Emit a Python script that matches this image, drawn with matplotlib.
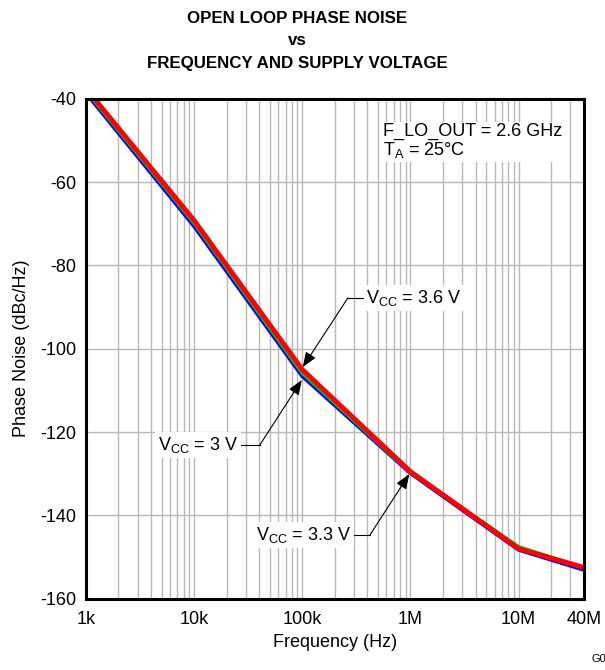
import matplotlib
matplotlib.use("Agg")
import matplotlib.pyplot as plt
from matplotlib.ticker import FixedLocator, LogLocator, NullFormatter

plt.rcParams['font.family'] = ['Liberation Sans', 'DejaVu Sans']
plt.rcParams['axes.unicode_minus'] = False

# data
freq_hz = [1e3, 1e4, 1e5, 1e6, 1e7, 4e7]
pn_3v0 = [-38.5, -70.5, -106.5, -129.8, -148.2, -153.0]
pn_3v3 = [-38.0, -69.8, -105.8, -129.7, -147.6, -152.6]
pn_3v6 = [-37.5, -69.2, -105.0, -129.5, -148.0, -152.5]

x_ticks = [1e3, 1e4, 1e5, 1e6, 1e7, 4e7]
x_tick_labels = ['1k', '10k', '100k', '1M', '10M', '40M']
y_ticks = [-160, -140, -120, -100, -80, -60, -40]

fs = 13

fig = plt.figure(figsize=(6.05, 6.70), dpi=100)
ax = fig.add_axes([0.142, 0.1064, 0.823, 0.7463])

ax.plot(freq_hz, pn_3v0, color='#0000ff', lw=3.2, solid_joinstyle='miter', zorder=3)
ax.plot(freq_hz, pn_3v3, color='#00cc00', lw=2.8, solid_joinstyle='miter', zorder=4)
ax.plot(freq_hz, pn_3v6, color='#ff0000', lw=3.5, solid_joinstyle='miter', zorder=5)

ax.set_xscale('log')
ax.set_xlim(1e3, 4e7)
ax.set_ylim(-160, -40)
ax.xaxis.set_major_locator(FixedLocator(x_ticks))
ax.set_xticklabels(x_tick_labels)
ax.xaxis.set_minor_locator(LogLocator(base=10, subs=range(2, 10), numticks=20))
ax.xaxis.set_minor_formatter(NullFormatter())
ax.set_yticks(y_ticks)
ax.tick_params(axis='both', which='both', length=0, labelsize=fs)
ax.tick_params(axis='x', pad=9)
ax.tick_params(axis='y', pad=7)

ax.grid(True, which='major', axis='y', color='#b8b8b8', lw=1.0)
ax.grid(True, which='both', axis='x', color='#b8b8b8', lw=1.0)
ax.set_axisbelow(True)
for sp in ax.spines.values():
    sp.set_linewidth(2.2)
    sp.set_color('black')
    sp.set_zorder(10)

ax.set_xlabel('Frequency (Hz)', fontsize=fs, labelpad=4)
ax.set_ylabel('Phase Noise (dBc/Hz)', fontsize=fs, labelpad=7)

fig.text(0.491, 0.973, 'OPEN LOOP PHASE NOISE', ha='center', va='center',
         fontsize=12.2, fontweight='bold')
fig.text(0.491, 0.940, 'vs', ha='center', va='center', fontsize=12.2, fontweight='bold')
fig.text(0.491, 0.905, 'FREQUENCY AND SUPPLY VOLTAGE', ha='center', va='center',
         fontsize=12.2, fontweight='bold')

ax.text(0.596, 0.951, 'F_LO_OUT = 2.6 GHz\n' + r'T$_\mathregular{A}$ = 25°C',
        transform=ax.transAxes, ha='left', va='top', fontsize=fs, linespacing=0.95,
        bbox=dict(facecolor='white', edgecolor='none', pad=1.5), zorder=6)

# annotations: (label, arrow tip, knee, text anchor, text alignment)
notes = [
    (r'V$_\mathregular{CC}$ = 3.6 V', (1.01e5, -104.4), (2.64e5, -87.8), (3.9e5, -87.8), 'left'),
    (r'V$_\mathregular{CC}$ = 3 V', (0.99e5, -107.5), (4.05e4, -123.1), (2.55e4, -123.1), 'right'),
    (r'V$_\mathregular{CC}$ = 3.3 V', (0.975e6, -130.1), (4.22e5, -144.7), (2.86e5, -144.7), 'right'),
]
for label, tip, knee, txt, ha in notes:
    ax.annotate('', xy=tip, xytext=knee,
                arrowprops=dict(arrowstyle='-|>,head_length=0.9,head_width=0.35',
                                color='black', lw=0.8, shrinkA=0, shrinkB=0),
                zorder=7)
    ax.plot([knee[0], txt[0]], [knee[1], txt[1]], color='black', lw=0.8, zorder=7)
    ax.text(txt[0], txt[1], label, ha=ha, va='center', fontsize=fs,
            bbox=dict(facecolor='white', edgecolor='none', pad=2), zorder=8)

fig.text(0.978, 0.016, 'G0', ha='left', va='center', fontsize=8)

fig.savefig('out.png', dpi=100)
